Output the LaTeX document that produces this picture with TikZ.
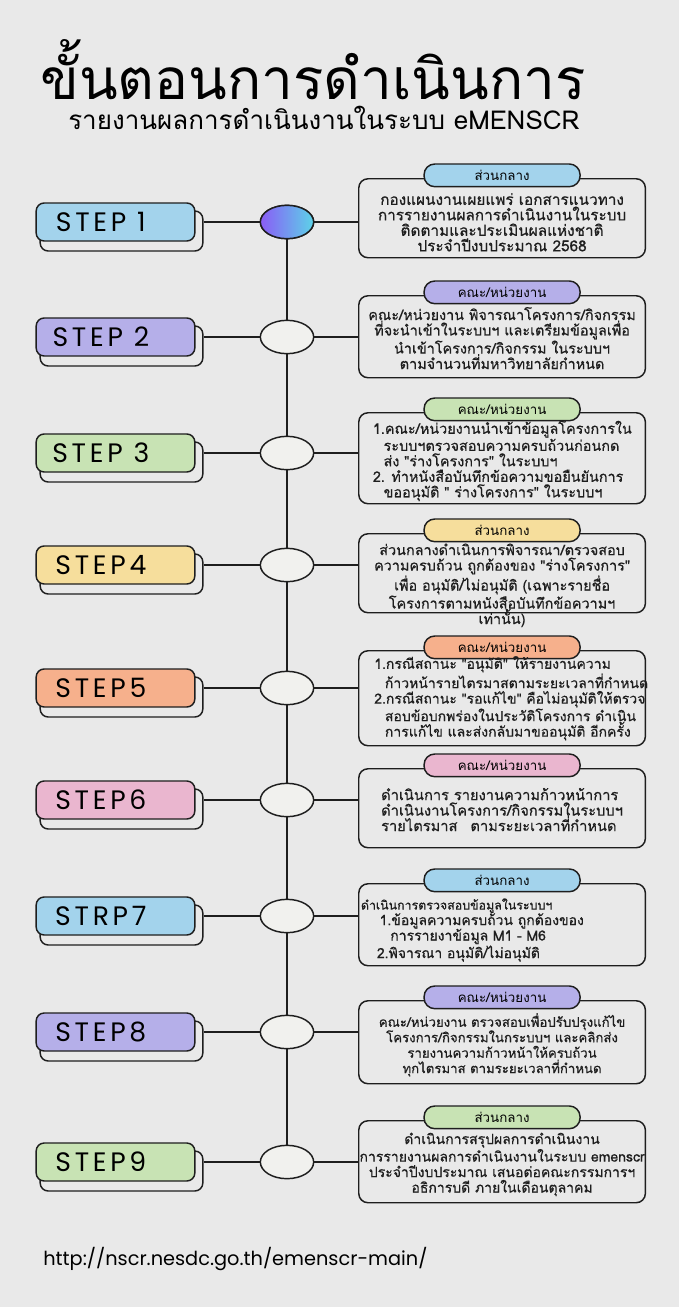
\documentclass[tikz,border=0pt]{standalone}
\usepackage{fontspec}
\setmainfont[Script=Thai]{Loma}
\newfontfamily\bodyfont[Script=Thai,FakeBold=0.6]{Loma}
\newfontfamily\stepfont[LetterSpace=14]{Poppins}
\newfontfamily\urlfont{Poppins}
\usetikzlibrary{shapes.geometric,positioning}

\definecolor{paper}{HTML}{E9E9E9}
\definecolor{ink}{HTML}{1E1E1E}
\definecolor{dotfill}{HTML}{F1F1EE}
\definecolor{sblue}{HTML}{A3D3EC}
\definecolor{slav}{HTML}{B5AFE9}
\definecolor{sgreen}{HTML}{C8E3B4}
\definecolor{syellow}{HTML}{F6DE9C}
\definecolor{sorange}{HTML}{F6B08C}
\definecolor{spink}{HTML}{EAB6CF}
\definecolor{dotleft}{HTML}{8A5CF6}
\definecolor{dotright}{HTML}{5CD3E8}

\tikzset{
  stepbox/.style={draw=ink,line width=1.1pt,rounded corners=6pt,minimum width=119pt,
    minimum height=28.5pt,inner sep=0pt,font=\stepfont\fontsize{20}{20}\selectfont},
  shadowbox/.style={draw=ink,line width=1.1pt,rounded corners=6pt,fill=paper,
    minimum width=122pt,minimum height=30pt,inner sep=0pt},
  dot/.style={ellipse,draw=ink,line width=1.1pt,fill=dotfill,minimum width=40pt,
    minimum height=25pt,inner sep=0pt},
  descbox/.style={draw=ink,line width=1.1pt,rounded corners=7pt,minimum width=215pt,
    anchor=north west,inner sep=0pt},
  tabbox/.style={draw=ink,line width=1.1pt,rounded corners=8pt,minimum width=117pt,
    minimum height=17pt,inner sep=0pt,font=\fontsize{10}{10}\selectfont},
  desctext/.style={font=\bodyfont\fontsize{10.5}{11.6}\selectfont,text=ink,align=center,inner sep=0pt},
  link/.style={draw=ink,line width=1.1pt}
}

\begin{document}
\begin{tikzpicture}[x=0.75pt,y=-0.75pt]
\fill[paper] (0,0) rectangle (679,1307);
\useasboundingbox (0,0) rectangle (679,1307);

% title
\node[anchor=base west,inner sep=0pt,font=\fontsize{42.5}{42.5}\selectfont] (title) at (40,99) {ขั้นตอนการดำเนินการ};
\node[anchor=base west,inner sep=0pt,font=\fontsize{19.5}{19.5}\selectfont] (subtitle) at (68,129) {รายงานผลการดำเนินงานในระบบ eMENSCR};

% left column
\foreach \i/\y/\c/\t in {1/222/sblue/STEP 1,2/337/slav/STEP 2,3/453/sgreen/STEP 3,
  4/565/syellow/STEP4,5/688/sorange/STEP5,6/800/spink/STEP6,7/916/sblue/STRP7,
  8/1032/slav/STEP8,9/1162/sgreen/STEP9}{
  \node[shadowbox] (sh\i) at (121.5,\y+9) {};
  \node[stepbox,fill=\c] (s\i) at (115.5,\y) {\hspace*{-22pt}\t};
  \node[dot] (c\i) at (287,\y) {};
}
\node[dot,left color=dotleft,right color=dotright] at (c1) {};

% right column
\node[descbox,minimum height=59.25pt] (d1) at (358,178) {};
\node[tabbox,fill=sblue] (t1) at ([yshift=2pt]d1.north) {ส่วนกลาง};
\node[desctext,font=\bodyfont\fontsize{11.5}{11.6}\selectfont] (x1) at ([yshift=-3pt]d1.center) {กองแผนงานเผยแพร่ เอกสารแนวทาง\\การรายงานผลการดำเนินงานในระบบ\\ติดตามและประเมินผลแห่งชาติ\\ประจำปีงบประมาณ 2568};

\node[descbox,minimum height=61.5pt] (d2) at (358,295) {};
\node[tabbox,fill=slav] (t2) at ([yshift=2pt]d2.north) {คณะ/หน่วยงาน};
\node[desctext,font=\bodyfont\fontsize{10.8}{11.6}\selectfont] (x2) at ([yshift=-1pt]d2.center) {คณะ/หน่วยงาน พิจารณาโครงการ/กิจกรรม\\ที่จะนำเข้าในระบบฯ และเตรียมข้อมูลเพื่อ\\นำเข้าโครงการ/กิจกรรม ในระบบฯ\\ตามจำนวนที่มหาวิทยาลัยกำหนด};

\node[descbox,minimum height=68.25pt] (d3) at (358,412) {};
\node[tabbox,fill=sgreen] (t3) at ([yshift=2pt]d3.north) {คณะ/หน่วยงาน};
\node[desctext,font=\bodyfont\fontsize{10.8}{11.6}\selectfont,align=left,anchor=west] (x3) at ([xshift=11pt,yshift=-2pt]d3.west) {1.คณะ/หน่วยงานนำเข้าข้อมูลโครงการใน\\\hspace*{8pt}ระบบฯตรวจสอบความครบถ้วนก่อนกด\\\hspace*{8pt}ส่ง "ร่างโครงการ" ในระบบฯ\\2. ทำหนังสือบันทึกข้อความขอยืนยันการ\\\hspace*{8pt}ขออนุมัติ " ร่างโครงการ" ในระบบฯ};

\node[descbox,minimum height=59.25pt] (d4) at (358,533) {};
\node[tabbox,fill=syellow] (t4) at ([yshift=2pt]d4.north) {ส่วนกลาง};
\node[desctext,font=\bodyfont\fontsize{10.8}{11.6}\selectfont] (x4) at ([yshift=-9pt]d4.center) {ส่วนกลางดำเนินการพิจารณา/ตรวจสอบ\\ความครบถ้วน ถูกต้องของ "ร่างโครงการ"\\เพื่อ อนุมัติ/ไม่อนุมัติ (เฉพาะรายชื่อ\\โครงการตามหนังสือบันทึกข้อความฯ\\เท่านั้น)};

\node[descbox,minimum height=71.25pt] (d5) at (358,650) {};
\node[tabbox,fill=sorange] (t5) at ([yshift=2pt]d5.north) {คณะ/หน่วยงาน};
\node[desctext,align=left,anchor=west] (x5) at ([xshift=12pt,yshift=0pt]d5.west) {1.กรณีสถานะ "อนุมัติ" ให้รายงานความ\\\hspace*{8pt}ก้าวหน้ารายไตรมาสตามระยะเวลาที่กำหนด\\2.กรณีสถานะ "รอแก้ไข" คือไม่อนุมัติให้ตรวจ\\\hspace*{8pt}สอบข้อบกพร่องในประวัติโครงการ ดำเนิน\\\hspace*{8pt}การแก้ไข และส่งกลับมาขออนุมัติ อีกครั้ง};

\node[descbox,minimum height=59.25pt] (d6) at (358,768) {};
\node[tabbox,fill=spink] (t6) at ([yshift=2pt]d6.north) {คณะ/หน่วยงาน};
\node[desctext,font=\bodyfont\fontsize{11}{11.6}\selectfont,align=left] (x6) at ([yshift=-1pt]d6.center) {ดำเนินการ รายงานความก้าวหน้าการ\\ดำเนินงานโครงการ/กิจกรรมในระบบฯ\\รายไตรมาส\hspace{6pt} ตามระยะเวลาที่กำหนด};

\node[descbox,minimum height=61.5pt] (d7) at (358,883) {};
\node[tabbox,fill=sblue] (t7) at ([yshift=2pt]d7.north) {ส่วนกลาง};
\node[desctext,align=left,anchor=west] (x7) at ([xshift=2pt,yshift=-4pt]d7.west) {{\fontsize{9.3}{11.6}\selectfont ดำเนินการตรวจสอบข้อมูลในระบบฯ}\\\hspace*{14pt}1.ข้อมูลความครบถ้วน ถูกต้องของ\\\hspace*{22pt}การรายงาข้อมูล M1 - M6\\\hspace*{12pt}2.พิจารณา อนุมัติ/ไม่อนุมัติ};

\node[descbox,minimum height=62.25pt] (d8) at (358,1000) {};
\node[tabbox,fill=slav] (t8) at ([yshift=2pt]d8.north) {คณะ/หน่วยงาน};
\node[desctext,font=\bodyfont\fontsize{9.9}{11.6}\selectfont] (x8) at ([yshift=-2pt]d8.center) {คณะ/หน่วยงาน ตรวจสอบเพื่อปรับปรุงแก้ไข\\โครงการ/กิจกรรมในกระบบฯ และคลิกส่ง\\รายงานความก้าวหน้าให้ครบถ้วน\\ทุกไตรมาส ตามระยะเวลาที่กำหนด};

\node[descbox,minimum height=61.5pt] (d9) at (358,1120) {};
\node[tabbox,fill=sgreen] (t9) at ([yshift=2pt]d9.north) {ส่วนกลาง};
\node[desctext] (x9) at ([yshift=-2pt]d9.center) {ดำเนินการสรุปผลการดำเนินงาน\\การรายงานผลการดำเนินงานในระบบ emenscr\\ประจำปีงบประมาณ เสนอต่อคณะกรรมการฯ\\อธิการบดี ภายในเดือนตุลาคม};

% connectors
\foreach \i in {1,...,9}{
  \draw[link] (sh\i.east |- s\i) -- (c\i);
  \draw[link] (c\i) -- (d\i.west |- c\i);
}
\foreach \i/\j in {1/2,2/3,3/4,4/5,5/6,6/7,7/8,8/9}
  \draw[link] (c\i) -- (c\j);

\node[anchor=base west,inner sep=0pt,font=\urlfont\fontsize{14.5}{14.5}\selectfont] (url) at (43,1265) {http://nscr.nesdc.go.th/emenscr-main/};
\end{tikzpicture}
\end{document}
